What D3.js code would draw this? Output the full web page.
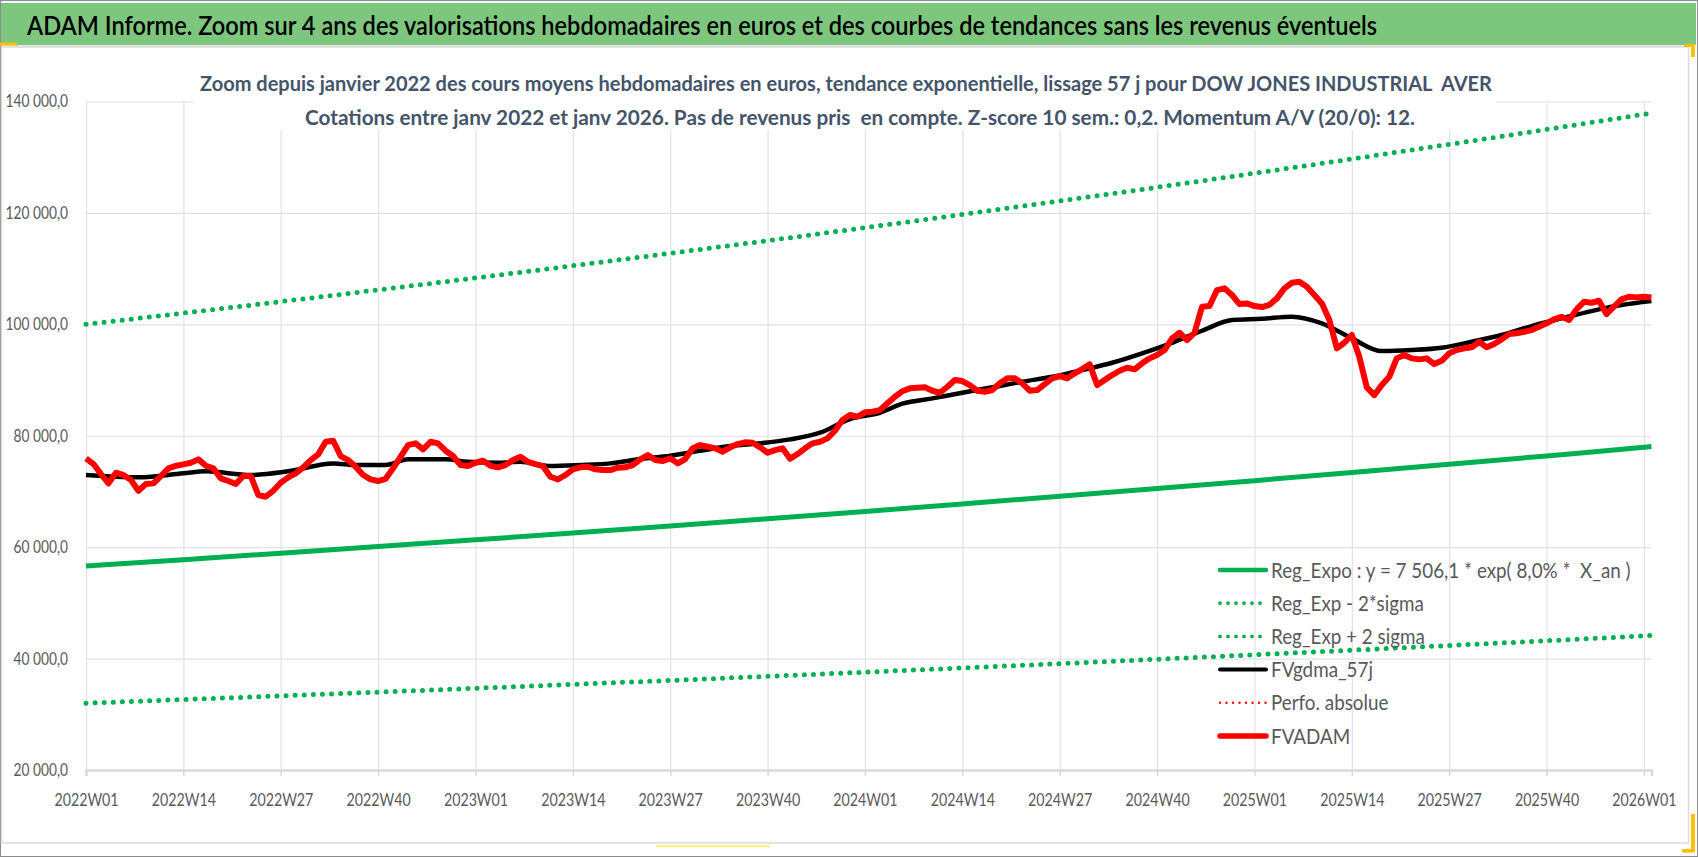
<!DOCTYPE html>
<html>
<head>
<meta charset="utf-8">
<script src="https://cdn.jsdelivr.net/npm/d3@7"></script>
<style>
  body { margin: 0; background: #fff; }
  svg text { font-family: Lato, "Open Sans", sans-serif; white-space: pre; }
</style>
</head>
<body>
<svg id="chart" width="1698" height="857"></svg>
<script>
// ---- data ----
var tickLabels = ["2022W01","2022W14","2022W27","2022W40","2023W01","2023W14","2023W27","2023W40",
                  "2024W01","2024W14","2024W27","2024W40","2025W01","2025W14","2025W27","2025W40","2026W01"];
var tickWeeks = [0,13,26,39,52,65,78,91,104,117,130,143,156,169,182,195,208];
var yTicks = [20000,40000,60000,80000,100000,120000,140000];

// trend curves, read every 13 weeks (+ last week)
var trendWeeks = [0,13,26,39,52,65,78,91,104,117,130,143,156,169,182,195,208,209];
var regExpo = [56600,57750,58920,60110,61320,62550,63810,65100,66420,67760,69120,70520,71940,73390,74870,76380,77920,78050];
var regLow  = [32000,32650,33310,33980,34670,35370,36080,36810,37560,38320,39090,39880,40690,41510,42350,43200,44080,44150];
var regHigh = [100000,102020,104080,106180,108330,110520,112750,115020,117350,119720,122140,124600,127120,129690,132310,134980,137710,137920];

// FVgdma_57j (smoothed), read at a few weeks
var blackWeeks = [0,7,13,16,22,27,33,36,40,43,48,51,55,58,62,66,70,74,78,82,86,90,94,98,102,106,109,113,117,121,125,129,
                  133,137,141,145,149,153,157,161,165,169,173,177,181,185,189,193,197,201,205,209];
var blackValues = [72950,72530,73250,73610,72950,73610,75040,74740,74740,75760,75760,75330,75150,75330,74560,74740,75040,
                   75820,76410,77310,78150,78640,79350,80540,83000,84130,85750,86710,87720,88690,89700,90590,91790,93100,
                   94790,96690,98850,100770,101000,101360,100160,97480,95200,95380,95800,96870,98080,99690,101070,102380,
                   103460,104180];

// FVADAM weekly values, 2022W01 .. 2026W02
var fvadam = [
  75940,74920,73120,71450,73360,72950,72050,70130,71330,71450,72770,74150,74620,74870,75150,75760,74620,74150,72350,71870,
  71330,72770,72770,69360,69050,70130,71560,72530,73250,74330,75640,76660,78920,79100,76360,75640,74440,72950,72170,71870,
  72280,74150,76230,78330,78640,77560,78920,78640,77310,76360,74740,74560,75150,75510,74600,74330,74740,75640,76230,75330,
  74920,74560,72640,72170,72950,73970,74330,74440,73970,73840,73840,74260,74330,74740,75760,76540,75640,75460,75940,75040,
  75820,77740,78330,78030,77740,77130,77920,78510,78820,78740,77920,76950,77430,77740,75870,76720,77740,78640,78920,79530,
  80900,82820,83720,83410,84200,84310,84610,85820,87000,88000,88510,88620,88690,88080,87720,88800,90000,89820,89100,88080,
  87900,88200,89410,90300,90300,89410,88080,88200,89280,90300,90720,90300,91200,91970,92820,89100,90000,90900,91670,92210,
  91920,93000,93890,94490,95380,97480,98490,97180,98490,103160,103280,106150,106460,105260,103640,103760,103280,103100,103500,104660,
  106460,107460,107640,106750,105260,103760,100770,95690,96690,98080,94180,88690,87300,89100,90590,93890,94490,93890,93710,93890,
  92870,93460,94790,95380,95690,95870,96870,95870,96460,97300,98250,98380,98670,98970,99570,100180,100890,101360,100770,102690,
  104050,103870,104230,101840,103160,104480,104950,104840,104950,104800
];

var headerText = "ADAM Informe. Zoom sur 4 ans des valorisations hebdomadaires en euros et des courbes de tendances sans les revenus éventuels";
var titleLines = ["Zoom depuis janvier 2022 des cours moyens hebdomadaires en euros, tendance exponentielle, lissage 57 j pour DOW JONES INDUSTRIAL  AVER",
                  "Cotations entre janv 2022 et janv 2026. Pas de revenus pris  en compte. Z-score 10 sem.: 0,2. Momentum A/V (20/0): 12."];
var legendNames = ["Reg_Expo : y = 7 506,1 * exp( 8,0% *  X_an )","Reg_Exp - 2*sigma","Reg_Exp + 2 sigma","FVgdma_57j","Perfo. absolue","FVADAM"];

// ---- drawing ----
var svg = d3.select("#chart");

// the picture is squeezed horizontally, so text is narrowed to fit
function squeeze(sel, f) {
  sel.each(function() {
    var w = this.getComputedTextLength();
    d3.select(this).attr("textLength", w * f).attr("lengthAdjust", "spacingAndGlyphs");
  });
}

// frame
svg.append("rect").attr("x",0.5).attr("y",0.5).attr("width",1697).attr("height",856)
   .attr("fill","#fff").attr("stroke","#8c8c8c");
svg.append("rect").attr("x",1).attr("y",3).attr("width",1695).attr("height",42).attr("fill","#7dc67e");
svg.append("line").attr("x1",1).attr("x2",1690).attr("y1",46).attr("y2",46).attr("stroke","#dcdcdc").attr("stroke-width",1.5);
svg.append("rect").attr("x",1.5).attr("y",47).attr("width",1687).attr("height",796)
   .attr("fill","none").attr("stroke","#dcdcdc").attr("stroke-width",1.5);
svg.append("rect").attr("x",0).attr("y",42.5).attr("width",17).attr("height",3).attr("fill","#ffc000");
svg.append("rect").attr("x",656).attr("y",845).attr("width",114).attr("height",2).attr("fill","#fff27a");
svg.append("rect").attr("x",1684).attr("y",44).attr("width",11).attr("height",3).attr("fill","#ffc000");
svg.append("rect").attr("x",1691).attr("y",44).attr("width",4).attr("height",13).attr("fill","#ffc000");
svg.append("rect").attr("x",1691).attr("y",814).attr("width",4).attr("height",38).attr("fill","#ffc000");
svg.append("rect").attr("x",1682).attr("y",849).attr("width",13).attr("height",3.5).attr("fill","#ffc000");

svg.append("text").attr("x",27).attr("y",34.5)
   .attr("font-size",26.5).attr("font-weight",600).attr("fill","#000")
   .attr("textLength",1350).attr("lengthAdjust","spacingAndGlyphs").text(headerText);

var x = d3.scaleLinear().domain([0, 209]).range([86, 86 + 7.49 * 209]);
var y = d3.scaleLinear().domain([20000, 140000]).range([770, 101.5]);
var plotW = x.range()[1] - x.range()[0];

var fr = d3.formatLocale({decimal: ",", thousands: " ", grouping: [3], currency: ["", "€"]});
var fmt = fr.format(",.1f");

// horizontal gridlines + y labels
var gy = svg.append("g").attr("transform","translate(" + x(0) + ",0)")
  .call(d3.axisLeft(y).tickValues(yTicks).tickFormat(fmt).tickSize(-plotW).tickPadding(18));
gy.select(".domain").remove();
gy.selectAll(".tick line").attr("stroke","#dfe2e7").attr("stroke-width",1.2);
gy.selectAll(".tick text").attr("font-size",17).attr("fill","#595959").attr("font-family",null);
squeeze(gy.selectAll(".tick text"), 0.81);

// vertical gridlines
var gv = svg.append("g").attr("transform","translate(0," + y(20000) + ")")
  .call(d3.axisBottom(x).tickValues(tickWeeks).tickFormat("").tickSize(-(y(20000) - y(140000))));
gv.select(".domain").remove();
gv.selectAll(".tick line").attr("stroke","#dfe2e7").attr("stroke-width",1.2);

// title box hides gridlines
svg.append("rect").attr("x",193).attr("y",60).attr("width",1303).attr("height",70).attr("fill","#fff");
svg.append("text").attr("x",200).attr("y",91).attr("font-size",21.5).attr("font-weight",700).attr("fill","#44546a")
   .attr("textLength",1292).attr("lengthAdjust","spacingAndGlyphs").text(titleLines[0]);
svg.append("text").attr("x",305).attr("y",124.5).attr("font-size",21.5).attr("font-weight",700).attr("fill","#44546a")
   .attr("textLength",1110).attr("lengthAdjust","spacingAndGlyphs").text(titleLines[1]);

// x axis
var gx = svg.append("g").attr("transform","translate(0," + y(20000) + ")")
  .call(d3.axisBottom(x).tickValues(tickWeeks).tickFormat(function(d, i) { return tickLabels[i]; }).tickSize(6));
gx.select(".domain").attr("stroke","#d9d9d9").attr("stroke-width",2.5);
gx.selectAll(".tick line").attr("stroke","#d9d9d9").attr("stroke-width",1.5);
gx.selectAll(".tick text").attr("y",30).attr("dy","0.35em").attr("font-size",18).attr("fill","#595959").attr("font-family",null);
squeeze(gx.selectAll(".tick text"), 0.79);

// series
var line = d3.line().x(function(d) { return x(d[0]); }).y(function(d) { return y(d[1]); });
var smooth = d3.line().curve(d3.curveMonotoneX).x(function(d) { return x(d[0]); }).y(function(d) { return y(d[1]); });
function pairs(ws, vs) { return ws.map(function(w, i) { return [w, vs[i]]; }); }

var green = "#00b050";
svg.append("path").attr("d", smooth(pairs(trendWeeks, regExpo))).attr("fill","none")
   .attr("stroke",green).attr("stroke-width",5);
svg.append("path").attr("d", smooth(pairs(trendWeeks, regLow))).attr("fill","none")
   .attr("stroke",green).attr("stroke-width",5).attr("stroke-linecap","round").attr("stroke-dasharray","0 9.1");
svg.append("path").attr("d", smooth(pairs(trendWeeks, regHigh))).attr("fill","none")
   .attr("stroke",green).attr("stroke-width",5).attr("stroke-linecap","round").attr("stroke-dasharray","0 9.1");
svg.append("path").attr("d", smooth(pairs(blackWeeks, blackValues))).attr("fill","none")
   .attr("stroke","#000").attr("stroke-width",4.5).attr("stroke-linejoin","round");
svg.append("path").attr("d", line(fvadam.map(function(v, i) { return [i, v]; }))).attr("fill","none")
   .attr("stroke","#ff0000").attr("stroke-width",6).attr("stroke-linejoin","round");

// legend
var legendStyles = [
  {c: green, w: 4.5, dash: null},
  {c: green, w: 3.8, dash: "0 8"},
  {c: green, w: 3.8, dash: "0 8"},
  {c: "#000", w: 4, dash: null},
  {c: "#ff0000", w: 2.4, dash: "0 6.5"},
  {c: "#ff0000", w: 5.5, dash: null}
];
var lg = svg.append("g").attr("transform","translate(1218,570)");
var rows = lg.selectAll("g").data(legendNames).enter().append("g")
  .attr("transform", function(d, i) { return "translate(0," + (i * 33.2) + ")"; });
rows.append("line").attr("x1",2).attr("x2",48).attr("y1",0).attr("y2",0)
  .attr("stroke", function(d, i) { return legendStyles[i].c; })
  .attr("stroke-width", function(d, i) { return legendStyles[i].w; })
  .attr("stroke-linecap","round")
  .attr("stroke-dasharray", function(d, i) { return legendStyles[i].dash; });
var lt = rows.append("text").attr("x",53).attr("y",7.5).attr("font-size",21.5).attr("fill","#595959")
  .text(function(d) { return d; });
squeeze(lt, 0.875);
</script>
</body>
</html>
